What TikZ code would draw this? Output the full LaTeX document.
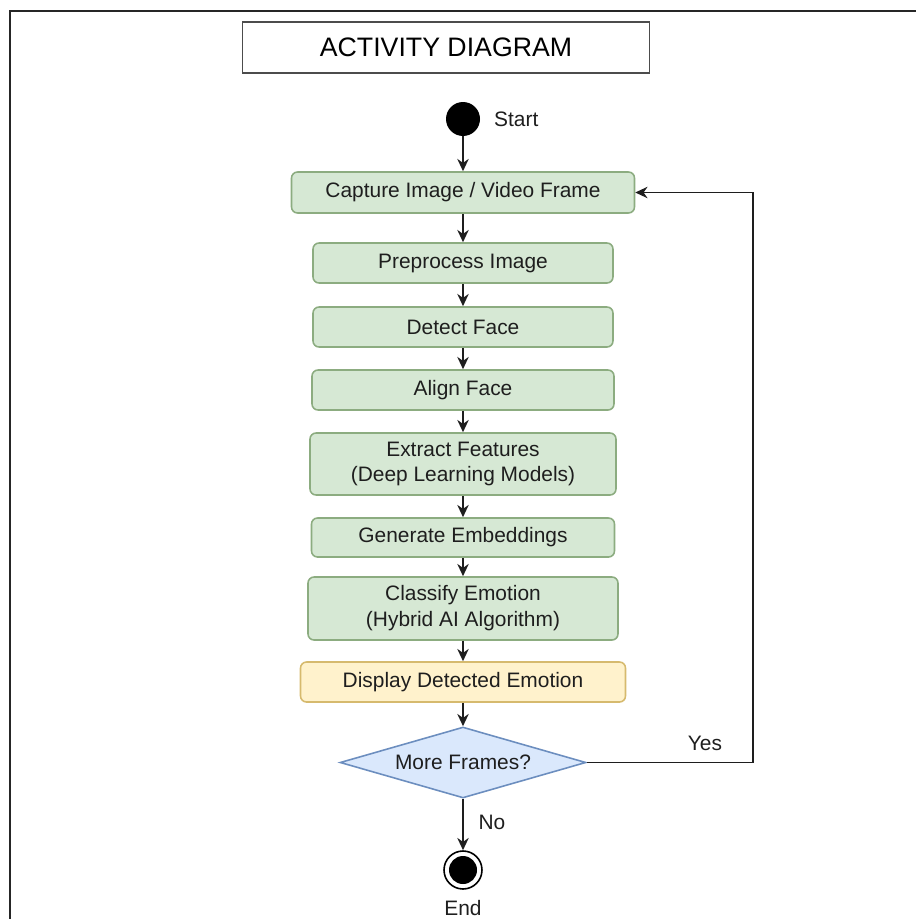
\documentclass[tikz,border=0pt]{standalone}
\usepackage{fontspec}
\setmainfont{Liberation Sans}
\usetikzlibrary{arrows.meta,shapes.geometric}
\definecolor{actfill}{RGB}{214,232,212}
\definecolor{actline}{RGB}{140,172,128}
\definecolor{dispfill}{RGB}{255,242,204}
\definecolor{displine}{RGB}{214,186,110}
\definecolor{decfill}{RGB}{218,232,252}
\definecolor{decline}{RGB}{108,142,191}
\definecolor{ink}{RGB}{30,30,30}

\begin{document}
\begin{tikzpicture}[x=0.02cm,y=-0.02cm,
  every node/.style={text=ink, font=\fontsize{11.9}{14.7}\selectfont},
  act/.style={draw=actline, fill=actfill, rounded corners=0.12cm, line width=0.9pt,
    align=center, inner sep=0pt, minimum height=0.8cm},
  arr/.style={-{Stealth[length=7pt,width=6.5pt]}, line width=1pt, draw=ink}]
\useasboundingbox (0,0) rectangle (916,919);

% frame
\draw[line width=1.6pt, black!85] (10,919) -- (10,11) -- (916,11);

% title
\node[draw=black!70, line width=0.8pt, minimum width=8.14cm, minimum height=1.02cm,
  text=black, font=\fontsize{15.2}{18}\selectfont] (title) at (446,47.5) {ACTIVITY DIAGRAM};

% start
\node[circle, fill=black, minimum size=0.68cm, inner sep=0pt] (start) at (463,119) {};
\node[anchor=west] (startlbl) at (488,119) {Start};

% actions
\node[act, minimum width=6.86cm, minimum height=0.82cm] (capture) at (463,192.5) {Capture Image / Video Frame};
\node[act, minimum width=6.00cm] (prep) at (463,263) {Preprocess Image};
\node[act, minimum width=6.00cm] (detect) at (463,327) {Detect Face};
\node[act, minimum width=6.04cm] (align) at (463,390) {Align Face};
\node[act, minimum width=6.12cm, minimum height=1.24cm] (extract) at (463,464) {Extract Features\\(Deep Learning Models)};
\node[act, minimum width=6.06cm, minimum height=0.78cm] (embed) at (463,537.5) {Generate Embeddings};
\node[act, minimum width=6.20cm, minimum height=1.26cm] (classify) at (463,608.5) {Classify Emotion\\(Hybrid AI Algorithm)};
\node[act, draw=displine, fill=dispfill, minimum width=6.50cm] (display) at (463,682) {Display Detected Emotion};

% decision
\node[diamond, aspect=3.4, draw=decline, fill=decfill, line width=0.9pt, inner sep=0pt,
  minimum width=4.92cm, minimum height=1.42cm] (more) at (463,762.5) {More Frames?};

% end
\node[circle, draw=black, line width=0.9pt, minimum size=0.76cm, inner sep=0pt,
  path picture={\fill[black] (path picture bounding box.center) circle (0.28cm);}] (end) at (463,870) {};
\node (endlbl) at (463,908) {End};

% flow
\draw[arr] (start) -- (capture);
\draw[arr] (capture) -- (prep);
\draw[arr] (prep) -- (detect);
\draw[arr] (detect) -- (align);
\draw[arr] (align) -- (extract);
\draw[arr] (extract) -- (embed);
\draw[arr] (embed) -- (classify);
\draw[arr] (classify) -- (display);
\draw[arr] (display) -- (more);
\draw[arr] (more) -- (end);

% loop back
\coordinate (loop) at (753,762.5);
\draw[arr] (more.east) -- (loop) |- (capture.east);
\node (yes) at (705,743) {Yes};
\node (no) at (492,822) {No};
\end{tikzpicture}
\end{document}
